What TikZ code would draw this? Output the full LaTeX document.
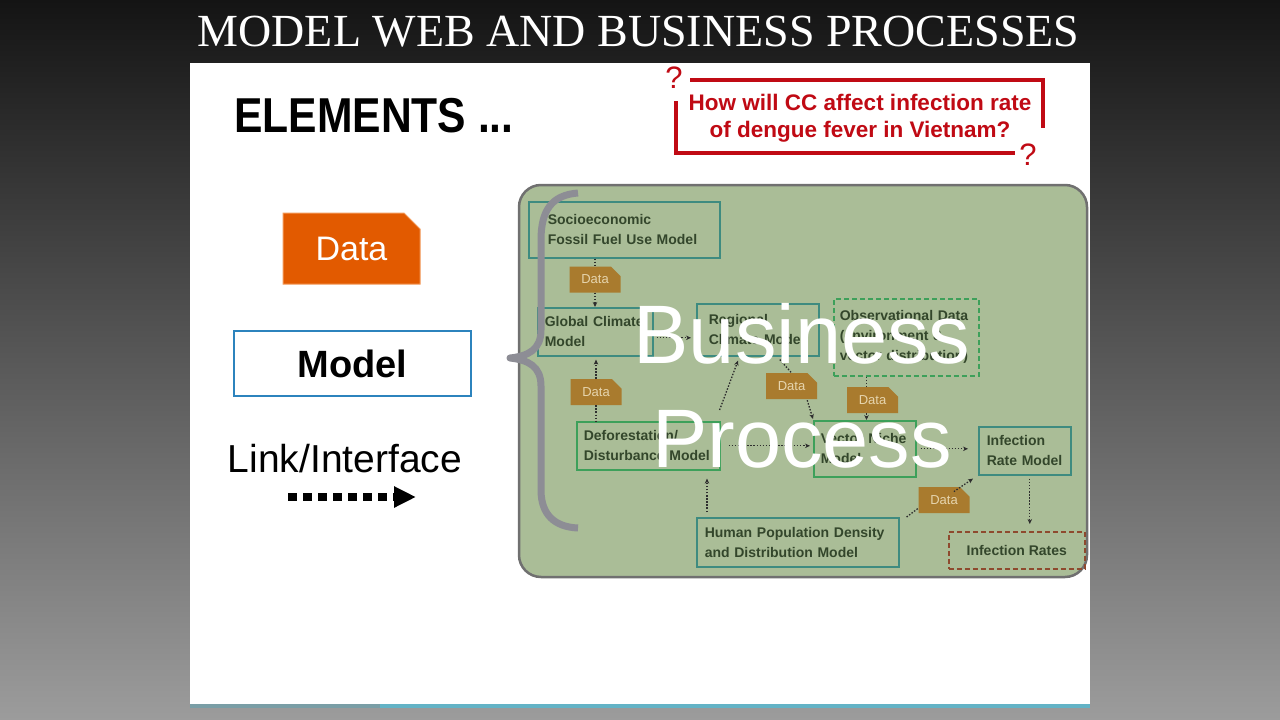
\documentclass[tikz,border=0pt]{standalone}
\usepackage{fontspec}
\setmainfont{Liberation Sans}
\newfontfamily\titlefont{Liberation Serif}
\usetikzlibrary{shapes.misc,arrows.meta,calc}
\definecolor{bgtop}{HTML}{141414}
\definecolor{bgbot}{HTML}{9C9C9C}
\definecolor{panelc}{HTML}{AABD97}
\definecolor{panelb}{HTML}{707070}
\definecolor{tealb}{HTML}{3E8B80}
\definecolor{greenb}{HTML}{3DA05A}
\definecolor{brownd}{HTML}{8E4A2E}
\definecolor{intext}{HTML}{33462B}
\definecolor{tagfill}{HTML}{A97B2E}
\definecolor{tagtext}{HTML}{E6D5AE}
\definecolor{redc}{HTML}{C00A14}
\definecolor{orangec}{HTML}{E25A00}
\definecolor{orangeb}{HTML}{F39A5A}
\definecolor{modelblue}{HTML}{2C83BD}
\definecolor{bracec}{HTML}{8D8D95}
\definecolor{stripc}{HTML}{63B3C6}
\definecolor{stripl}{HTML}{7A9EA6}
\definecolor{linkc}{HTML}{2E2E2E}
\newcommand{\tline}[1]{\mbox{#1}}
\begin{document}
\begin{tikzpicture}[x=1pt,y=-1pt,
  inbox/.style={draw=tealb, line width=1.6pt, anchor=north west, align=left,
    inner ysep=0pt, text=intext, font=\bfseries\fontsize{14}{20}\selectfont},
  greenbox/.style={inbox, draw=greenb},
  tag/.style={chamfered rectangle, chamfered rectangle corners=north east,
    chamfered rectangle xsep=5pt, chamfered rectangle ysep=5pt,
    fill=tagfill, draw=none, minimum width=51, minimum height=26, inner sep=0pt,
    text=tagtext, font=\fontsize{13}{14}\selectfont},
  link/.style={linkc, line width=1.3pt, dash pattern=on 1.5pt off 1.6pt,
    -{Stealth[length=5pt,width=4.5pt]}},
  plainlink/.style={linkc, line width=1.3pt, dash pattern=on 1.5pt off 1.6pt}
]
\useasboundingbox (0,0) rectangle (1280,720);
% background
\shade[top color=bgtop, bottom color=bgbot] (0,0) rectangle (1280,720);
\fill[white] (190,63) rectangle (1090,705);
\fill[stripc] (380,704) rectangle (1090,708);
\fill[stripl] (190,704) rectangle (380,708);

% title
\node[anchor=base, text=white, font=\titlefont\fontsize{46}{50}\selectfont] (title) at (638.5,46) {MODEL WEB AND BUSINESS PROCESSES};

% elements heading
\node[anchor=base west, inner sep=0pt, font=\bfseries\fontsize{49}{52}\selectfont] (elem) at (234,132) {\scalebox{0.87}[1]{ELEMENTS ...}};

% legend
\node[chamfered rectangle, chamfered rectangle corners=north east,
  chamfered rectangle xsep=8pt, chamfered rectangle ysep=8pt,
  fill=orangec, draw=orangeb, line width=1pt, minimum width=137, minimum height=71,
  inner sep=0pt, text=white, font=\fontsize{34}{36}\selectfont] (bigdata) at (351.5,248.5) {Data};
\node[draw=modelblue, line width=1.6pt, fill=white, minimum width=237, minimum height=65,
  inner sep=0pt, font=\bfseries\fontsize{38}{40}\selectfont] (model) at (352.5,363.5) {Model};
\node[anchor=base, inner sep=0pt, font=\fontsize{39}{42}\selectfont] (linklabel) at (345,472) {Link/Interface};
\coordinate (la) at (288,497);
\coordinate (lb) at (416,497);
\draw[line width=8pt, dash pattern=on 9pt off 6pt, -{Triangle[length=22pt,width=20pt]}] (la) -- (lb);

% question frame
\draw[redc, line width=3.5pt] (690,80) -- (1043,80) -- (1043,128);
\draw[redc, line width=3.5pt] (676,101) -- (676,153) -- (1015,153);
\node[text=redc, align=center, font=\bfseries\fontsize{22.5}{27}\selectfont] (q) at (860,118) {How will CC affect infection rate\\of dengue fever in Vietnam?};
\node[text=redc, font=\fontsize{31}{32}\selectfont] (q1) at (674,78) {?};
\node[text=redc, font=\fontsize{31}{32}\selectfont] (q2) at (1028,155) {?};

% panel
\draw[fill=panelc, draw=panelb, line width=2.5pt, rounded corners=22pt] (519,185) rectangle (1087,577);

% model boxes
\node[inbox, minimum width=191, minimum height=56, inner xsep=19pt, text width=153pt] (soc) at (528,201) {\tline{Socioeconomic}\\\tline{Fossil Fuel Use Model}};
\node[inbox, minimum width=115, minimum height=48, inner xsep=7pt, text width=101pt] (gcm) at (537,307) {\tline{Global Climate}\\\tline{Model}};
\node[inbox, minimum width=122, minimum height=52, inner xsep=12pt, text width=98pt] (rcm) at (696,303) {\tline{Regional}\\\tline{Climate Model}};
\node[inbox, draw=greenb, dash pattern=on 5pt off 3pt, minimum width=145, minimum height=77, inner xsep=6pt, text width=133pt] (obs) at (833,298) {\tline{Observational Data}\\\tline{(environment \&}\\\tline{vector distribution)}};
\node[greenbox, minimum width=143, minimum height=48, inner xsep=7pt, text width=129pt] (defo) at (576,421) {\tline{Deforestation/}\\\tline{Disturbance Model}};
\node[greenbox, minimum width=102, minimum height=56, inner xsep=7pt, text width=88pt] (vnm) at (813,420) {\tline{Vector Niche}\\\tline{Model}};
\node[inbox, minimum width=92, minimum height=48, inner xsep=8pt, text width=76pt] (irm) at (978,426) {\tline{Infection}\\\tline{Rate Model}};
\node[inbox, minimum width=202, minimum height=49, inner xsep=8pt, text width=186pt] (hpd) at (696,517) {\tline{Human Population Density}\\\tline{and Distribution Model}};
\node[inbox, draw=brownd, line width=1.6pt, dash pattern=on 5pt off 3pt, align=center, minimum width=136, minimum height=37, inner xsep=0pt] (ir) at (948,531) {Infection Rates};

% data tags
\node[tag] (d1) at (595,279.5) {Data};
\node[tag] (d2) at (596,392) {Data};
\node[tag] (d3) at (791.5,386) {Data};
\node[tag] (d4) at (872.5,400) {Data};
\node[tag] (d5) at (944,500) {Data};

% connectors
\coordinate (hp1) at ($(hpd.north west)+(11,-5)$);
\coordinate (hp2) at ($(hpd.north east)+(7,0)$);
\coordinate (dfr) at ($(defo.north east)+(-1,-11)$);
\coordinate (rcb) at ($(rcm.south west)+(42,4)$);
\coordinate (rcs) at ($(rcm.south)+(22,3)$);
\draw[plainlink] (d1.north |- soc.south) -- (d1.north);
\draw[link] (d1.south) -- (d1.south |- gcm.north);
\draw[plainlink] (d2.south) -- (d2.south |- defo.north);
\draw[link, shorten >=3pt] (d2.north) -- (d2.north |- gcm.south);
\draw[link, shorten <=3pt, shorten >=5pt] ([yshift=-6pt]gcm.east) -- ([yshift=-6pt]gcm.east -| rcm.west);
\draw[link] (dfr) -- (rcb);
\draw[plainlink] (rcs) -- (d3.north);
\draw[link] ($(d3.south east)+(-10,1)$) -- ($(vnm.north west)+(0,-1)$);
\draw[plainlink] ([xshift=-6pt]obs.south -| d4.north) -- ([xshift=-6pt]d4.north);
\draw[link] ([xshift=-6pt]d4.south) -- ([xshift=-6pt]d4.south |- vnm.north);
\draw[link, shorten <=8pt, shorten >=3pt] (defo.east) -- (defo.east -| vnm.west);
\draw[link, shorten <=4pt, shorten >=10pt] (vnm.east) -- (vnm.east -| irm.west);
\draw[link, shorten >=8pt] (hp1) -- (hp1 |- defo.south);
\draw[plainlink] (hp2) -- ($(d5.south west)+(0,-5)$);
\draw[link] ($(d5.north east)+(-11,0)$) -- ($(irm.south west)+(-5,3)$);
\draw[link, shorten <=3pt, shorten >=7pt] ([xshift=5pt]irm.south) -- ([xshift=5pt]irm.south |- ir.north);

% brace
\draw[bracec, line width=7pt, line join=round] (578,193) .. controls (552,195) and (541,210) .. (541,240) -- (541,330) .. controls (541,350) and (528,356) .. (510,358) .. controls (528,360) and (541,366) .. (541,386) -- (541,490) .. controls (541,515) and (555,527) .. (578,528);

% business process overlay
\node[text=white, align=center, inner sep=0pt, font=\fontsize{83}{104}\selectfont] (bp) at (802,386) {Business\\Process};
\end{tikzpicture}
\end{document}
